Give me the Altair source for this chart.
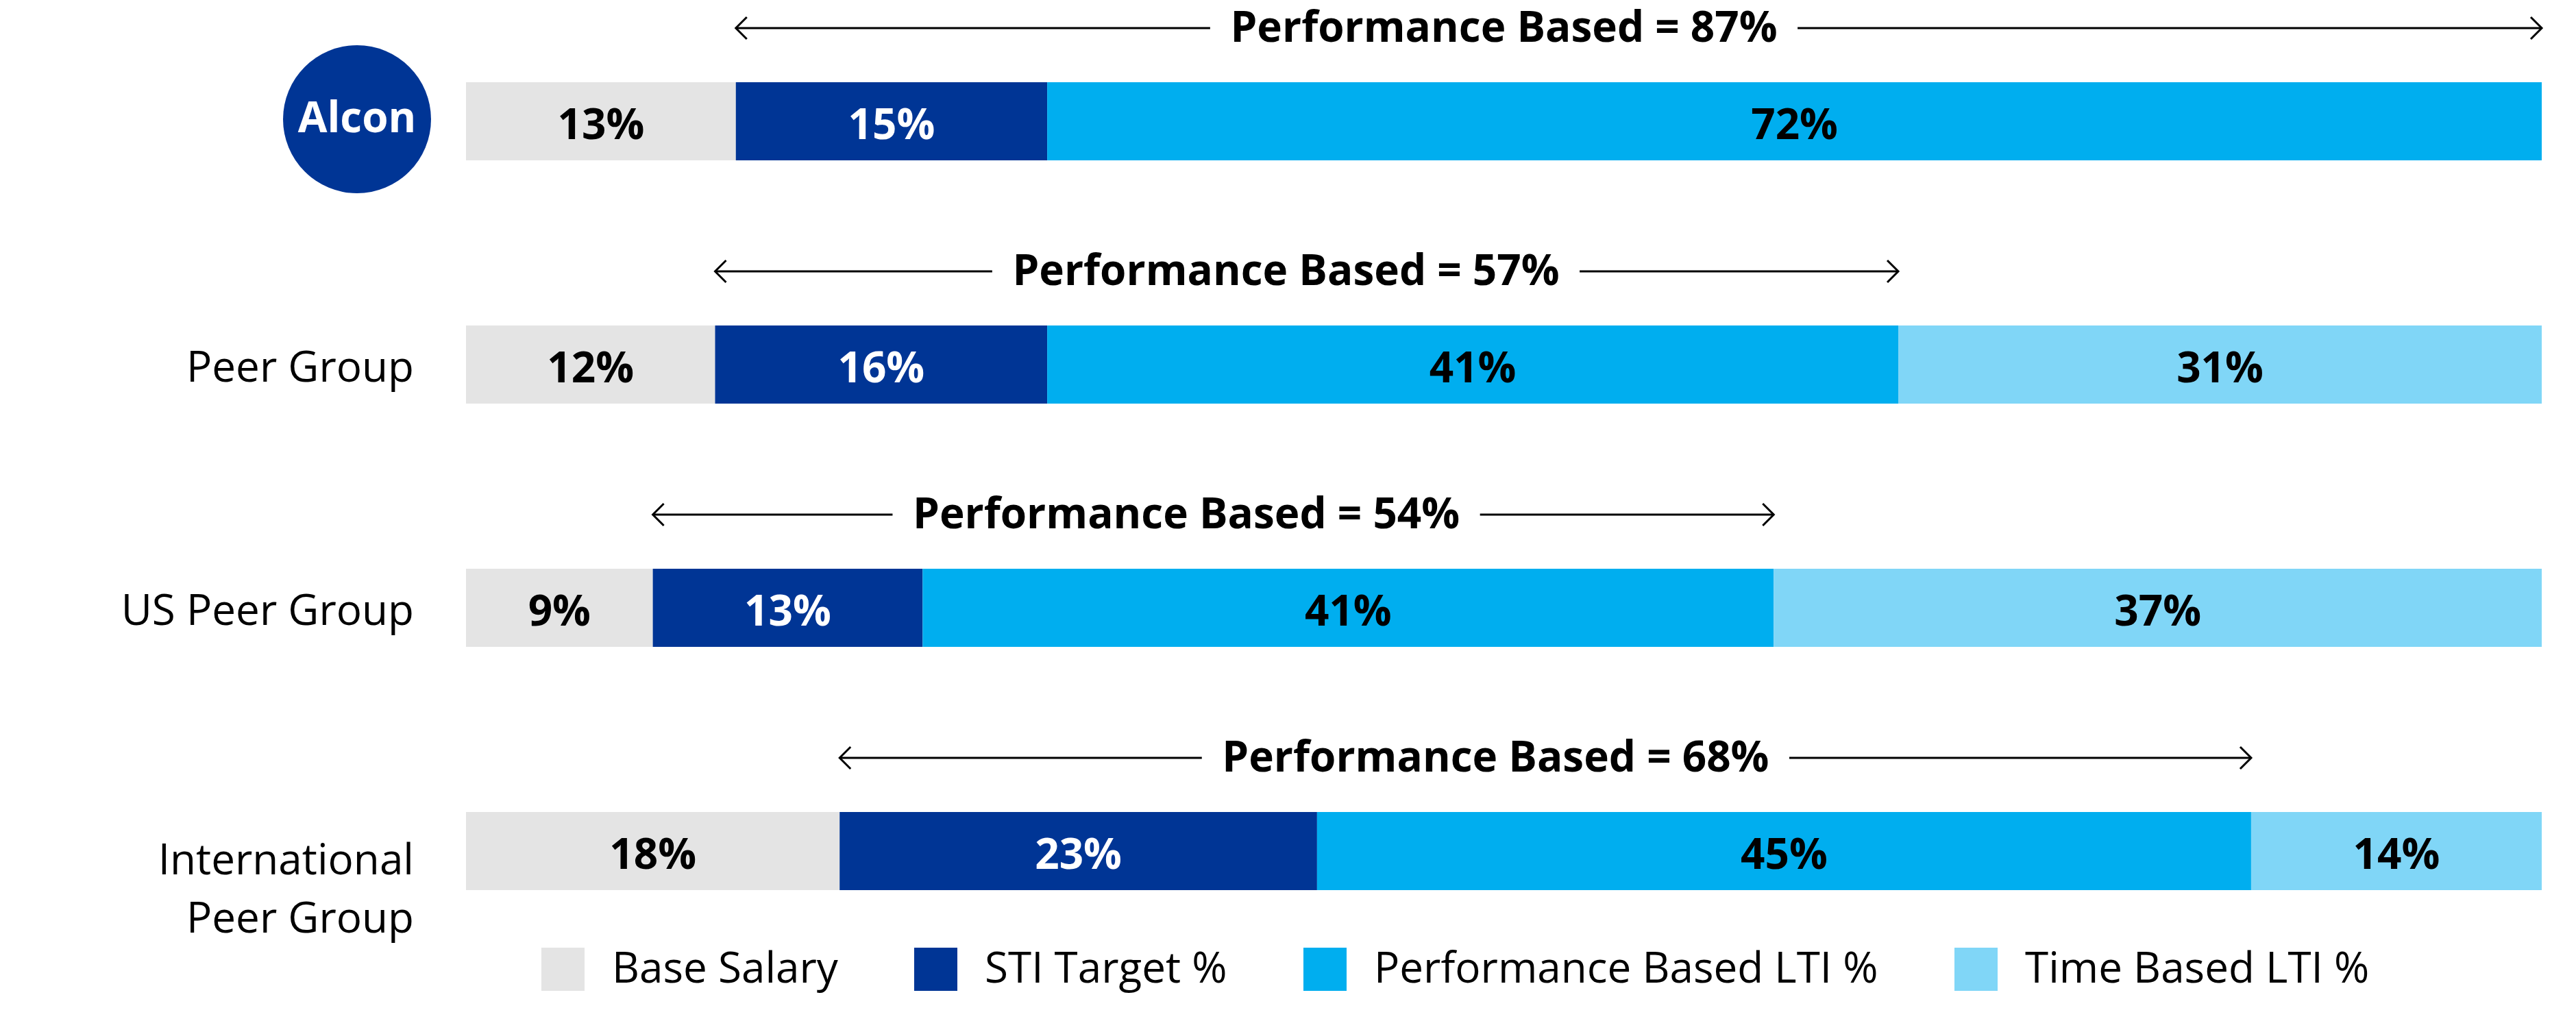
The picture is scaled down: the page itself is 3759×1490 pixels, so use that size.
import altair as alt
import pandas as pd

# ---------------- data ----------------
categories = ["Alcon", "Peer Group", "US Peer Group", "International Peer Group"]
label_line1 = ["", "Peer Group", "US Peer Group", "International"]
label_line2 = ["", "", "", "Peer Group"]
segments = ["Base Salary", "STI Target %", "Performance Based LTI %", "Time Based LTI %"]
seg_colors = ["#E4E4E4", "#003595", "#00AEEF", "#80D6F7"]
base_salary = [13, 12, 9, 18]
sti_target = [15, 16, 13, 23]
perf_lti = [72, 41, 41, 45]
time_lti = [0, 31, 37, 14]
perf_total = [87, 57, 54, 68]
perf_label_center = [50.0, 39.5, 34.7, 49.6]   # where the arrow caption sits (in % of the bar)

# ---------------- tables ----------------
rows = []
for i, c in enumerate(categories):
    for j, (s, vals) in enumerate(zip(segments, [base_salary, sti_target, perf_lti, time_lti])):
        if vals[i] > 0:
            rows.append({"cat": c, "seg": s, "order": j, "value": vals[i]})
bars_df = pd.DataFrame(rows)

arrow_df = pd.DataFrame({
    "cat": categories,
    "start": base_salary,
    "end": [b + s + p for b, s, p in zip(base_salary, sti_target, perf_lti)],
    "center": perf_label_center,
    "text": [f"Performance Based = {t}%" for t in perf_total],
})

label_df = pd.DataFrame({"cat": categories, "l1": label_line1, "l2": label_line2})
logo_df = pd.DataFrame({"cat": [categories[0]], "name": ["Alcon"]})

FONT = "Open Sans"
FS = 62
YB = -14.5          # bar offset inside its band (px)
YA = YB - 136       # arrow offset (px)
HALF_GAP = 14.15    # half width of the caption gap in the arrow (x units)

y_enc = alt.Y("cat:N", sort=categories, axis=None,
              scale=alt.Scale(domain=categories, paddingInner=0, paddingOuter=0))
x_scale = alt.Scale(domain=[0, 100], nice=False, zero=False)

base_bars = alt.Chart(bars_df).transform_stack(
    stack="value", groupby=["cat"], as_=["x0", "x1"],
    sort=[alt.SortField("order", order="ascending")],
)

bars = base_bars.mark_bar(height=114, yOffset=YB).encode(
    y=y_enc,
    x=alt.X("x0:Q", scale=x_scale, axis=None),
    x2="x1:Q",
    color=alt.Color(
        "seg:N",
        scale=alt.Scale(domain=segments, range=seg_colors),
        legend=alt.Legend(
            orient="none", legendX=110, legendY=1369, direction="horizontal",
            title=None, symbolType="square", symbolSize=3969, symbolStrokeWidth=0,
            labelFontSize=FS, labelFont=FONT, labelColor="black", labelOffset=40,
            columnPadding=111, padding=0, labelLimit=0,
        ),
    ),
)

bar_text = base_bars.transform_calculate(
    mid="(datum.x0 + datum.x1) / 2",
    lab="datum.value + '%'",
).mark_text(font=FONT, fontSize=FS, fontWeight="bold", baseline="middle",
            align="center", yOffset=YB + 7).encode(
    y=y_enc,
    x=alt.X("mid:Q", scale=x_scale, axis=None),
    text="lab:N",
    color=alt.condition("datum.seg == 'STI Target %'", alt.value("white"), alt.value("black")),
)

arrow_base = alt.Chart(arrow_df).transform_calculate(
    lx2=f"datum.center - {HALF_GAP}",
    rx1=f"datum.center + {HALF_GAP}",
)

left_line = arrow_base.mark_rule(color="black", strokeWidth=3, yOffset=YA).encode(
    y=y_enc, x=alt.X("start:Q", scale=x_scale, axis=None), x2="lx2:Q")
right_line = arrow_base.mark_rule(color="black", strokeWidth=3, yOffset=YA).encode(
    y=y_enc, x=alt.X("rx1:Q", scale=x_scale, axis=None), x2="end:Q")
left_head = arrow_base.mark_point(shape="M1,-1L0,0L1,1", filled=False, size=1024,
                                  strokeWidth=3, color="black", opacity=1,
                                  yOffset=YA).encode(
    y=y_enc, x=alt.X("start:Q", scale=x_scale, axis=None))
right_head = arrow_base.mark_point(shape="M-1,-1L0,0L-1,1", filled=False, size=1024,
                                   strokeWidth=3, color="black", opacity=1,
                                   yOffset=YA).encode(
    y=y_enc, x=alt.X("end:Q", scale=x_scale, axis=None))
arrow_text = arrow_base.mark_text(font=FONT, fontSize=FS, fontWeight="bold",
                                  baseline="alphabetic", align="center", color="black",
                                  yOffset=YA + 20).encode(
    y=y_enc, x=alt.X("center:Q", scale=x_scale, axis=None), text="text:N")

single = alt.Chart(label_df).transform_filter("datum.l2 == ''")
multi = alt.Chart(label_df).transform_filter("datum.l2 != ''")
cat_single = single.mark_text(font=FONT, fontSize=FS, align="right", baseline="middle",
                              color="black", yOffset=YB + 6).encode(
    y=y_enc, x=alt.value(-76), text="l1:N")
cat_multi1 = multi.mark_text(font=FONT, fontSize=FS, align="right", baseline="middle",
                             color="black", yOffset=YB + 15).encode(
    y=y_enc, x=alt.value(-76), text="l1:N")
cat_multi2 = multi.mark_text(font=FONT, fontSize=FS, align="right", baseline="middle",
                             color="black", yOffset=YB + 100).encode(
    y=y_enc, x=alt.value(-76), text="l2:N")

logo = alt.Chart(logo_df).mark_point(shape="circle", filled=True, size=46656,
                                     color="#003595", opacity=1, yOffset=YB - 3).encode(
    y=y_enc, x=alt.value(-159))
logo_text = alt.Chart(logo_df).mark_text(font=FONT, fontSize=FS, fontWeight="bold",
                                         color="white", align="center", baseline="middle",
                                         yOffset=YB - 3).encode(
    y=y_enc, x=alt.value(-159), text="name:N")

chart = alt.layer(
    bars, bar_text, left_line, right_line, left_head, right_head, arrow_text,
    cat_single, cat_multi1, cat_multi2, logo, logo_text,
).properties(
    width=3029, height=1420,
    autosize=alt.AutoSizeParams(type="none"),
    padding={"left": 672, "top": 6, "right": 30, "bottom": 40},
).configure(font=FONT, background="white").configure_view(stroke="transparent", strokeWidth=0)

chart.save("out.html", embed_options={"renderer": "svg", "actions": False})
